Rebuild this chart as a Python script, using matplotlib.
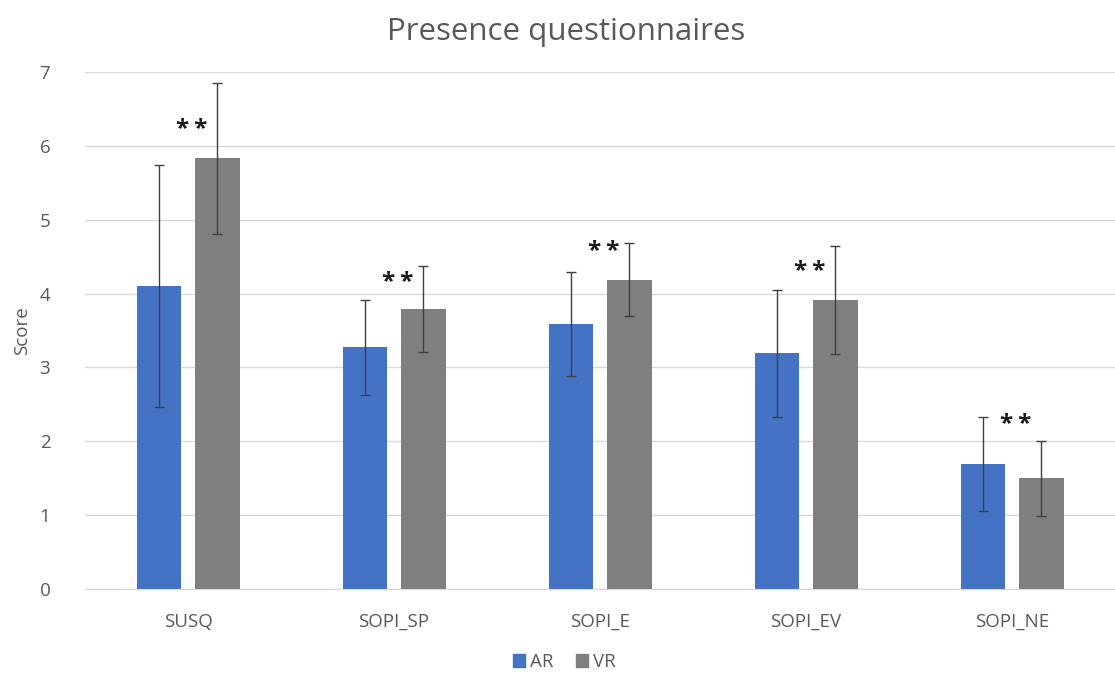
import numpy as np
import matplotlib
matplotlib.use("Agg")
import matplotlib.pyplot as plt
from matplotlib.patches import Patch

categories = ["SUSQ", "SOPI_SP", "SOPI_E", "SOPI_EV", "SOPI_NE"]
ar_mean = [4.10, 3.27, 3.59, 3.19, 1.69]
ar_sd = [1.64, 0.64, 0.70, 0.86, 0.64]
vr_mean = [5.83, 3.79, 4.19, 3.91, 1.50]
vr_sd = [1.02, 0.58, 0.50, 0.73, 0.51]
sig_labels = ["*\u2009*"] * 5
sig_heights = [6.22, 4.14, 4.56, 4.29, 2.22]

AR_COLOR = "#4472C4"
VR_COLOR = "#7F7F7F"
TEXT_COLOR = "#595959"
GRID_COLOR = "#D9D9D9"

plt.rcParams["font.family"] = ["Open Sans", "DejaVu Sans"]

fig = plt.figure(figsize=(11.15, 6.77), dpi=100)
ax = fig.add_axes([85 / 1115, 88 / 677, 1030 / 1115, 517 / 677])

x = np.arange(len(categories))
width = 0.218
offset = 0.141

err_kw = dict(ecolor="#404040", elinewidth=1.0, capsize=3.5, capthick=1.0)
ax.bar(x - offset, ar_mean, width, color=AR_COLOR, yerr=ar_sd,
       error_kw=err_kw, label="AR", zorder=2)
ax.bar(x + offset, vr_mean, width, color=VR_COLOR, yerr=vr_sd,
       error_kw=err_kw, label="VR", zorder=2)

for xi, lab, h in zip(x, sig_labels, sig_heights):
    ax.text(xi + 0.02, h, lab, ha="center", va="center", fontsize=17.5,
            fontweight="bold", color="#1a1a1a", zorder=3)

ax.set_xlim(-0.5, len(categories) - 0.5)
ax.set_ylim(0, 7)
ax.set_yticks(range(0, 8))
ax.set_xticks(x)
ax.set_xticklabels(categories)
ax.tick_params(axis="both", length=0, colors=TEXT_COLOR, labelsize=13.5)
ax.tick_params(axis="y", pad=25)
ax.tick_params(axis="x", pad=17)
ax.yaxis.grid(True, color=GRID_COLOR, linewidth=1.0, zorder=0)
ax.set_axisbelow(True)
for side in ["top", "right", "left"]:
    ax.spines[side].set_visible(False)
ax.spines["bottom"].set_color(GRID_COLOR)

ax.set_ylabel("Score", color=TEXT_COLOR, fontsize=13.5)
ax.yaxis.set_label_coords(-0.052, 0.5)

fig.text(0.508, 0.952, "Presence questionnaires", ha="center", va="center",
         fontsize=22.5, color=TEXT_COLOR)

handles = [Patch(color=AR_COLOR, label="AR"), Patch(color=VR_COLOR, label="VR")]
fig.legend(handles=handles, loc="center", bbox_to_anchor=(0.506, 0.022),
           ncol=2, frameon=False, fontsize=13.5, handlelength=0.65,
           handleheight=0.65, handletextpad=0.25, columnspacing=1.2,
           labelcolor=TEXT_COLOR)

fig.savefig("out.png", dpi=100, facecolor="white")
